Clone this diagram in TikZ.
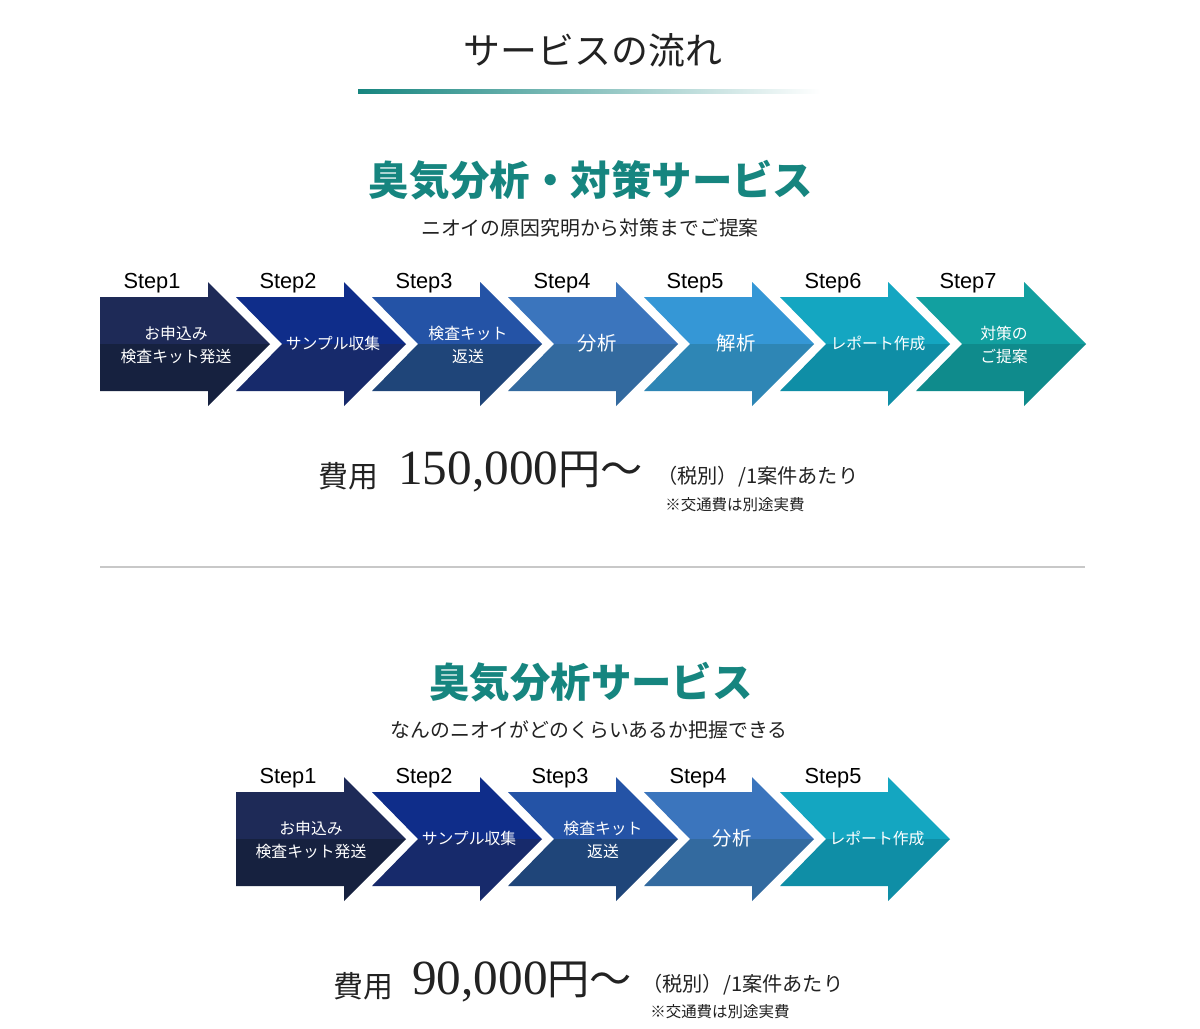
\documentclass[tikz,border=0pt]{standalone}
\usepackage{fontspec}
\setmainfont{Liberation Serif}
\newfontfamily\jpfont{Noto Sans CJK JP}
\newfontfamily\latinsans{Liberation Sans}
\usepackage{tikz}
\usetikzlibrary{positioning}
\definecolor{teal}{HTML}{16857F}
\definecolor{inkdark}{HTML}{222222}
\definecolor{rulegray}{HTML}{C8C8C8}
\definecolor{s1top}{HTML}{1E2A57}
\definecolor{s1bot}{HTML}{16213F}
\definecolor{s2top}{HTML}{0F2D8A}
\definecolor{s2bot}{HTML}{172A6B}
\definecolor{s3top}{HTML}{2453A6}
\definecolor{s3bot}{HTML}{1F4579}
\definecolor{s4top}{HTML}{3B75BD}
\definecolor{s4bot}{HTML}{336A9F}
\definecolor{s5top}{HTML}{3597D6}
\definecolor{s5bot}{HTML}{2E86B5}
\definecolor{s6top}{HTML}{14A6C1}
\definecolor{s6bot}{HTML}{0F8EA6}
\definecolor{s7top}{HTML}{12A0A0}
\definecolor{s7bot}{HTML}{0F8B8C}
\tikzset{
  pagetitle/.style={font=\jpfont\fontsize{21}{24}\selectfont, text=inkdark},
  heading/.style={font=\jpfont\bfseries\fontsize{23}{26}\selectfont, text=teal},
  subhead/.style={font=\jpfont\fontsize{11.3}{14}\selectfont, text=inkdark},
  steplabel/.style={font=\latinsans\fontsize{12.4}{14}\selectfont, text=black},
  arrowtext/.style={font=\jpfont\fontsize{9}{13}\selectfont, text=white, align=center},
  arrowbig/.style={font=\jpfont\fontsize{11}{13}\selectfont, text=white, align=center},
  costlabel/.style={font=\jpfont\fontsize{17}{20}\selectfont, text=inkdark, anchor=west, inner sep=0pt},
  price/.style={font=\fontsize{28}{30}\selectfont, text=inkdark, anchor=west, inner sep=0pt},
  taxnote/.style={font=\jpfont\fontsize{11.5}{14}\selectfont, text=inkdark, anchor=west, inner sep=0pt},
  costnote/.style={font=\jpfont\fontsize{8.8}{11}\selectfont, text=inkdark, anchor=west, inner sep=0pt}
}
% one chevron arrow: #1 x0, #2 centre y, #3 colour prefix, #4 notch depth
\newcommand{\steparrow}[4]{%
  \fill[#3top] (#1+#4,#2) -- (#1,#2-47) -- (#1+108,#2-47) -- (#1+108,#2-62) -- (#1+170,#2) -- cycle;
  \fill[#3bot] (#1+#4,#2) -- (#1,#2+47) -- (#1+108,#2+47) -- (#1+108,#2+62) -- (#1+170,#2) -- cycle;
}

\begin{document}
\begin{tikzpicture}[x=0.02cm,y=-0.02cm]
\path[use as bounding box] (0,0) rectangle (1200,1028);
\fill[white] (0,0) rectangle (1200,1028);

\node[pagetitle] (title) at (593,50) {サービスの流れ};
\shade[left color=teal, right color=white] (358,89) rectangle (820,93);

% --- first service
\node[heading] (head1) at (591,180) {臭気分析・対策サービス};
\node[subhead] (sub1) at (590,228) {ニオイの原因究明から対策までご提案};

\steparrow{100}{344}{s1}{0}
\steparrow{236}{344}{s2}{46}
\steparrow{372}{344}{s3}{46}
\steparrow{508}{344}{s4}{46}
\steparrow{644}{344}{s5}{46}
\steparrow{780}{344}{s6}{46}
\steparrow{916}{344}{s7}{46}

\node[steplabel] (a1) at (152,283) {Step1};
\node[steplabel] (a2) at (288,283) {Step2};
\node[steplabel] (a3) at (424,283) {Step3};
\node[steplabel] (a4) at (562,283) {Step4};
\node[steplabel] (a5) at (695,283) {Step5};
\node[steplabel] (a6) at (833,283) {Step6};
\node[steplabel] (a7) at (968,283) {Step7};

\node[arrowtext] (t1) at (176,345) {お申込み\\検査キット発送};
\node[arrowtext] (t2) at (333,343) {サンプル収集};
\node[arrowtext] (t3) at (468,345) {検査キット\\返送};
\node[arrowbig] (t4) at (597,343) {分析};
\node[arrowbig] (t5) at (736,343) {解析};
\node[arrowtext] (t6) at (878,343) {レポート作成};
\node[arrowtext] (t7) at (1004,345) {対策の\\ご提案};

\node[costlabel] (cost1) at (318,476) {費用};
\node[price] (price1) at (398,472) {150,000{\jpfont\fontsize{24}{26}\selectfont 円〜}};
\node[taxnote] (tax1) at (657,477) {（税別）/1案件あたり};
\node[costnote] (note1) at (665,505) {※交通費は別途実費};

\draw[rulegray, line width=1.2pt] (100,567) -- (1085,567);

% --- second service
\node[heading] (head2) at (591,682) {臭気分析サービス};
\node[subhead] (sub2) at (589,730) {なんのニオイがどのくらいあるか把握できる};

\steparrow{236}{839}{s1}{0}
\steparrow{372}{839}{s2}{46}
\steparrow{508}{839}{s3}{46}
\steparrow{644}{839}{s4}{46}
\steparrow{780}{839}{s6}{46}

\node[steplabel] (b1) at (288,778) {Step1};
\node[steplabel] (b2) at (424,778) {Step2};
\node[steplabel] (b3) at (560,778) {Step3};
\node[steplabel] (b4) at (698,778) {Step4};
\node[steplabel] (b5) at (833,778) {Step5};

\node[arrowtext] (u1) at (311,840) {お申込み\\検査キット発送};
\node[arrowtext] (u2) at (469,838) {サンプル収集};
\node[arrowtext] (u3) at (603,840) {検査キット\\返送};
\node[arrowbig] (u4) at (732,838) {分析};
\node[arrowtext] (u5) at (877,838) {レポート作成};

\node[costlabel] (cost2) at (333,986) {費用};
\node[price] (price2) at (412,982) {90,000{\jpfont\fontsize{24}{26}\selectfont 円〜}};
\node[taxnote] (tax2) at (642,985) {（税別）/1案件あたり};
\node[costnote] (note2) at (650,1012) {※交通費は別途実費};
\end{tikzpicture}
\end{document}
